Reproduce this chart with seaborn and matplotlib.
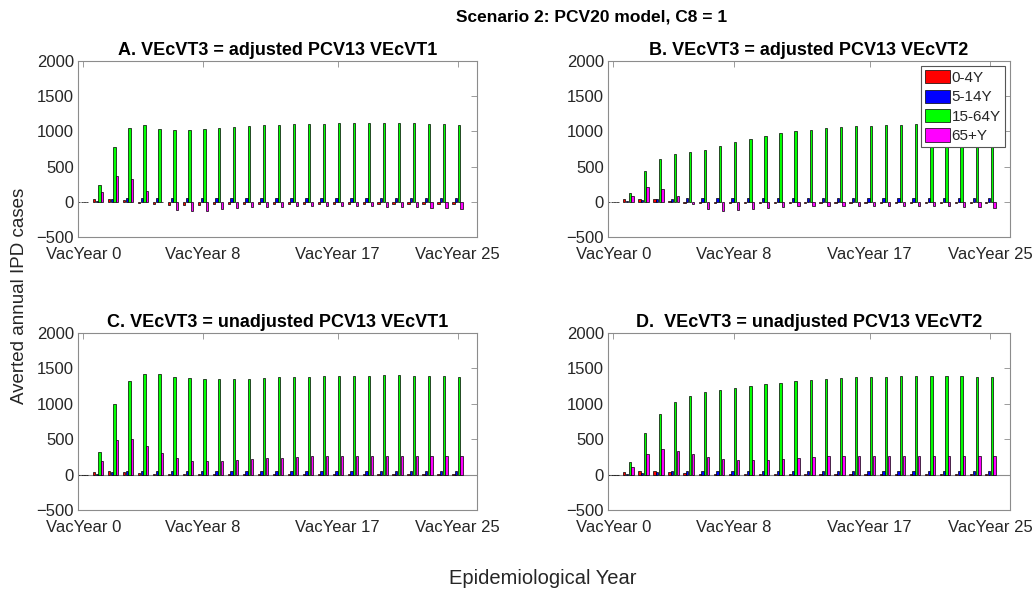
import numpy as np
import pandas as pd
import matplotlib
matplotlib.use("Agg")
import matplotlib.pyplot as plt
import seaborn as sns

# Epidemiological years after vaccine introduction
years = list(range(26))
tick_positions = [0, 8, 17, 25]
tick_labels = ["VacYear 0", "VacYear 8", "VacYear 17", "VacYear 25"]

age_groups = ["0-4Y", "5-14Y", "15-64Y", "65+Y"]
age_colors = ["#FF0000", "#0000FF", "#00FF00", "#FF00FF"]

panel_titles = [
    "A. VEcVT3 = adjusted PCV13 VEcVT1",
    "B. VEcVT3 = adjusted PCV13 VEcVT2",
    "C. VEcVT3 = unadjusted PCV13 VEcVT1",
    "D.  VEcVT3 = unadjusted PCV13 VEcVT2",
]

# Panel A: adjusted, VEcVT1
a_0_4 = [0, 37, 42, 20, -10, -30, -45, -45, -40, -35, -30, -25, -25, -25, -25, -25,
         -25, -25, -25, -25, -25, -25, -25, -25, -25, -25]
a_5_14 = [0, 12, 37, 47, 50, 50, 50, 50, 50, 50, 50, 50, 50, 50, 50, 50,
          50, 50, 50, 50, 50, 50, 50, 50, 50, 50]
a_15_64 = [0, 235, 780, 1042, 1089, 1037, 1014, 1014, 1037, 1051, 1065, 1075, 1089, 1098,
           1103, 1112, 1112, 1121, 1126, 1126, 1121, 1121, 1117, 1112, 1107, 1098]
a_65 = [0, 135, 365, 330, 160, -8, -117, -131, -126, -107, -93, -80, -70, -70, -65, -65,
        -65, -65, -65, -65, -70, -75, -80, -84, -89, -98]

# Panel B: adjusted, VEcVT2
b_0_4 = [0, 37, 37, 33, 15, -10, -20, -20, -20, -20, -20, -20, -20, -20, -20, -20,
         -20, -20, -20, -20, -20, -20, -20, -20, -20, -20]
b_5_14 = [0, 10, 20, 35, 45, 50, 50, 50, 50, 50, 50, 50, 50, 50, 50, 50,
          50, 50, 50, 50, 50, 50, 50, 50, 50, 50]
b_15_64 = [0, 125, 435, 611, 680, 704, 736, 787, 843, 898, 935, 972, 1000, 1023,
           1042, 1060, 1074, 1083, 1093, 1097, 1106, 1110, 1110, 1105, 1100, 1095]
b_65 = [0, 79, 204, 180, 88, -25, -106, -130, -116, -97, -83, -74, -65, -60, -56, -56,
        -56, -56, -56, -56, -56, -60, -65, -74, -79, -93]

# Panel C: unadjusted, VEcVT1
c_0_4 = [0, 42, 56, 42, 28, 14, 5, 5, 5, 5, 5, 5, 5, 5, 5, 5,
         5, 5, 5, 5, 5, 5, 5, 5, 5, 5]
c_5_14 = [0, 14, 42, 52, 52, 52, 52, 52, 52, 52, 52, 52, 52, 52, 52, 52,
          52, 52, 52, 52, 52, 52, 52, 52, 52, 52]
c_15_64 = [0, 318, 991, 1327, 1425, 1416, 1383, 1364, 1350, 1346, 1350, 1355, 1364, 1374,
           1374, 1383, 1388, 1388, 1397, 1397, 1407, 1407, 1397, 1397, 1393, 1383]
c_65 = [0, 188, 494, 508, 409, 301, 235, 197, 188, 197, 212, 226, 235, 240, 249, 263,
        263, 263, 263, 263, 263, 263, 263, 263, 263, 263]

# Panel D: unadjusted, VEcVT2
d_0_4 = [0, 42, 56, 56, 42, 28, 14, 5, 5, 5, 5, 5, 5, 5, 5, 5,
         5, 5, 5, 5, 5, 5, 5, 5, 5, 5]
d_5_14 = [0, 10, 23, 42, 47, 52, 52, 52, 52, 52, 52, 52, 52, 52, 52, 52,
          52, 52, 52, 52, 52, 52, 52, 52, 52, 52]
d_15_64 = [0, 173, 584, 855, 1028, 1117, 1164, 1201, 1229, 1252, 1280, 1299, 1327, 1336,
           1350, 1360, 1374, 1383, 1383, 1393, 1397, 1397, 1397, 1393, 1383, 1374]
d_65 = [0, 103, 296, 362, 338, 296, 254, 226, 212, 212, 212, 226, 240, 249, 258, 263,
        263, 263, 263, 263, 263, 263, 263, 263, 263, 263]

panels = [
    (a_0_4, a_5_14, a_15_64, a_65),
    (b_0_4, b_5_14, b_15_64, b_65),
    (c_0_4, c_5_14, c_15_64, c_65),
    (d_0_4, d_5_14, d_15_64, d_65),
]

sns.set_theme(style="white")
plt.rcParams["font.family"] = ["Liberation Sans", "DejaVu Sans"]

W, H = 1035, 590
fig = plt.figure(figsize=(W / 100, H / 100), dpi=100)

# axes boxes in pixel coordinates: left, top, right, bottom
boxes = [(78, 61, 477, 237), (608, 61, 1010, 237),
         (78, 333, 477, 510), (608, 333, 1010, 510)]

text_col = "#262626"
spine_col = "#8c8c8c"

for i, (series, title, box) in enumerate(zip(panels, panel_titles, boxes)):
    l, t, r, b = box
    ax = fig.add_axes([l / W, 1 - b / H, (r - l) / W, (b - t) / H])
    df = pd.DataFrame({
        "year": np.tile([str(y) for y in years], len(age_groups)),
        "age": np.repeat(age_groups, len(years)),
        "cases": np.concatenate([np.asarray(s, dtype=float) for s in series]),
    })
    if i >= 2:
        ax.axhline(0, color=spine_col, lw=0.8, zorder=0)
    sns.barplot(data=df, x="year", y="cases", hue="age",
                order=[str(y) for y in years], hue_order=age_groups,
                palette=age_colors, width=0.72, gap=0.15,
                edgecolor="black", linewidth=0.5, saturation=1,
                errorbar=None, legend=(i == 1), ax=ax)
    ax.set_xlim(-0.35, 26.3)
    ax.set_ylim(-500, 2000)
    ax.set_yticks([-500, 0, 500, 1000, 1500, 2000])
    ax.set_xticks(tick_positions)
    ax.set_xticklabels(tick_labels)
    ax.set_xlabel("")
    ax.set_ylabel("")
    ax.tick_params(axis="both", direction="in", length=4, width=0.6, color=spine_col,
                   labelsize=12, labelcolor=text_col, top=True, right=True)
    ax.tick_params(axis="y", pad=3)
    ax.tick_params(axis="x", pad=7)
    for s in ax.spines.values():
        s.set_visible(True)
        s.set_color(spine_col)
        s.set_linewidth(0.8)
    ax.set_title(title, fontsize=13, fontweight="bold", color="black", pad=4)
    if i == 1:
        leg = ax.legend(loc="upper right", fontsize=11, frameon=True, fancybox=False,
                        edgecolor="#555555", framealpha=1, borderaxespad=0.35,
                        handlelength=1.65, handleheight=0.95, handletextpad=0.1,
                        labelspacing=0.3, borderpad=0.25, title=None)
        leg.get_frame().set_linewidth(0.8)
        for txt in leg.get_texts():
            txt.set_color(text_col)

fig.text(592 / W, 1 - 17 / H, "Scenario 2: PCV20 model, C8 = 1", ha="center",
         va="center", fontsize=12.5, fontweight="bold", color="black")
fig.text(20 / W, 1 - 296 / H, "Averted annual IPD cases", rotation=90, ha="center",
         va="center", fontsize=13.5, color=text_col)
fig.text(543 / W, 1 - 578 / H, "Epidemiological Year", ha="center", va="center",
         fontsize=14.5, color=text_col)

fig.savefig("out.png", dpi=100)
